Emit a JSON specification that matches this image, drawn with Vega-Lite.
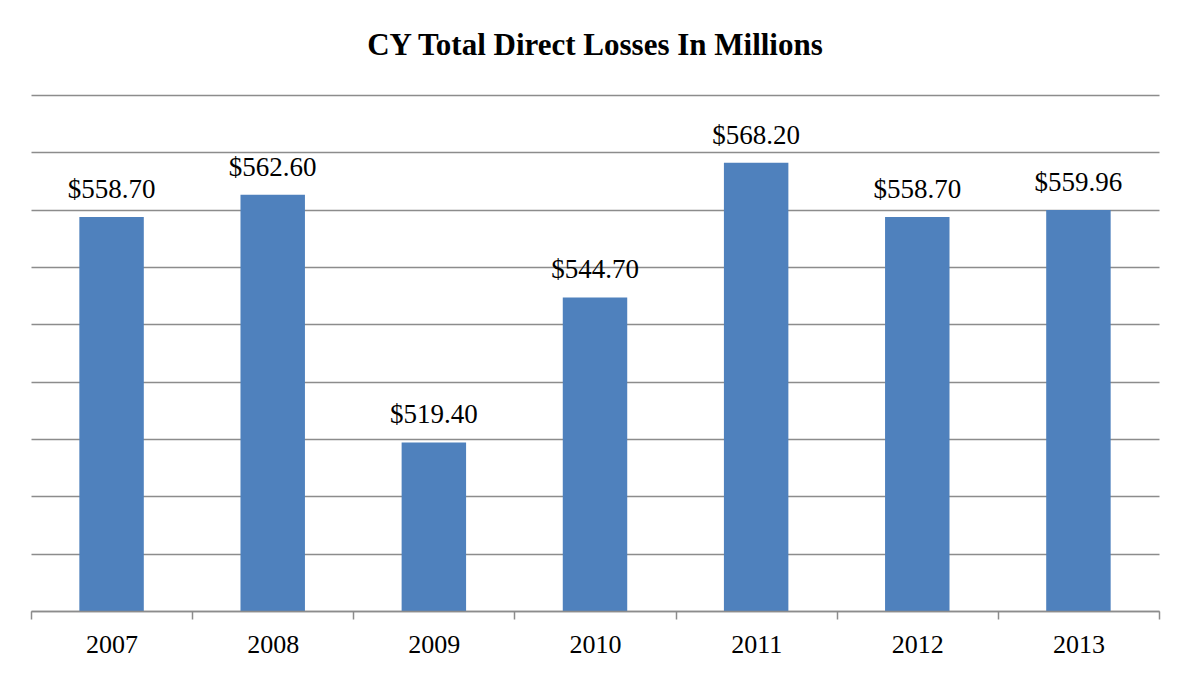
{
  "$schema": "https://vega.github.io/schema/vega-lite/v6.json",
  "autosize": "none",
  "width": 1128,
  "height": 516,
  "padding": {"left": 31, "top": 95, "right": 30, "bottom": 62},
  "background": "white",
  "title": {
    "text": "CY Total Direct Losses In Millions",
    "font": "Liberation Serif",
    "fontSize": 31,
    "fontWeight": "bold",
    "color": "#000000",
    "anchor": "middle",
    "baseline": "alphabetic",
    "offset": 9
  },
  "data": {
    "values": [
      {"year": "2007", "losses": 558.70},
      {"year": "2008", "losses": 562.60},
      {"year": "2009", "losses": 519.40},
      {"year": "2010", "losses": 544.70},
      {"year": "2011", "losses": 568.20},
      {"year": "2012", "losses": 558.70},
      {"year": "2013", "losses": 559.96}
    ]
  },
  "encoding": {
    "x": {
      "field": "year",
      "type": "ordinal",
      "sort": null,
      "scale": {"paddingInner": 0, "paddingOuter": 0},
      "axis": {
        "title": null,
        "labelAngle": 0,
        "labelFont": "Liberation Serif",
        "labelFontSize": 26,
        "labelColor": "#000000",
        "labelBaseline": "alphabetic",
        "labelPadding": 33,
        "tickBand": "extent",
        "tickSize": 8,
        "tickColor": "#8c8c8c",
        "tickWidth": 1.5,
        "domainColor": "#8c8c8c",
        "domainWidth": 1.5,
        "grid": false,
        "zindex": 1
      }
    },
    "y": {
      "field": "losses",
      "type": "quantitative",
      "scale": {"domain": [490, 580], "zero": false, "nice": false},
      "axis": {
        "title": null,
        "labels": false,
        "ticks": false,
        "domain": false,
        "grid": true,
        "gridColor": "#8c8c8c",
        "gridWidth": 1.5,
        "gridOpacity": 1,
        "values": [490, 500, 510, 520, 530, 540, 550, 560, 570, 580]
      }
    }
  },
  "layer": [
    {
      "mark": {"type": "bar", "color": "#4f81bd", "clip": true, "width": {"band": 0.4}}
    },
    {
      "mark": {
        "type": "text",
        "font": "Liberation Serif",
        "fontSize": 27,
        "color": "#000000",
        "baseline": "alphabetic",
        "dy": -19
      },
      "encoding": {
        "text": {"field": "losses", "type": "quantitative", "format": "$,.2f"}
      }
    }
  ],
  "config": {
    "view": {"stroke": null},
    "font": "Liberation Serif"
  }
}
